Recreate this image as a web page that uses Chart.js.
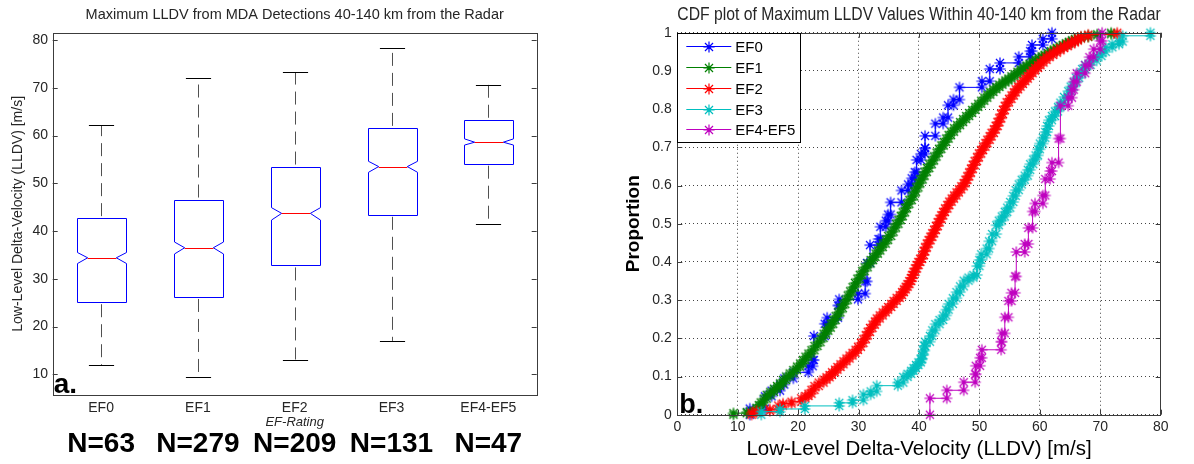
<!DOCTYPE html>
<html>
<head>
<meta charset="utf-8">
<script src="https://cdn.jsdelivr.net/npm/chart.js@4.4.0/dist/chart.umd.min.js"></script>
<style>
    html, body { margin: 0; padding: 0; background: #fff; }
    body { width: 1194px; height: 464px; position: relative; overflow: hidden; }
    #boxWrap { position: absolute; left: 0; top: 0; width: 600px; height: 464px; }
    #cdfWrap { position: absolute; left: 600px; top: 0; width: 594px; height: 464px; }
</style>
</head>
<body>
<div id="boxWrap"><canvas id="boxChart"></canvas></div>
<div id="cdfWrap"><canvas id="cdfChart"></canvas></div>
<script>
// Panel a: notched box plot per EF rating
const categories = ['EF0', 'EF1', 'EF2', 'EF3', 'EF4-EF5'];
const counts = [63, 279, 209, 131, 47];
const whiskerLow = [11.9, 9.4, 13.1, 17.0, 41.5];
const quartile1 = [25.1, 26.2, 32.8, 43.4, 54.1];
const notchLow = [33.2, 35.2, 42.3, 52.3, 58.0];
const medians = [34.4, 36.5, 43.7, 53.5, 58.6];
const notchHigh = [35.5, 37.7, 44.9, 54.6, 59.3];
const quartile3 = [42.7, 46.6, 53.5, 61.6, 63.3];
const whiskerHigh = [62.2, 72.0, 73.2, 78.3, 70.6];

// Panel b: empirical CDF steps (LLDV value, proportion)
const seriesLabels = ['EF0', 'EF1', 'EF2', 'EF3', 'EF4-EF5'];
const seriesColors = ['#0000ff', '#008000', '#ff0000', '#00bfbf', '#bf00bf'];

const ef0Lldv = [12.0, 14.5, 15.6, 17.0, 17.7, 19.2, 21.7, 22.4, 22.6, 24.4, 24.8, 26.6, 26.8, 29.9, 31.1, 31.4,
    31.9, 33.3, 33.6, 34.5, 34.9, 35.3, 37.1, 38.2, 38.8, 39.3, 39.6, 40.3, 41.0, 41.0, 42.7, 44.0, 44.8, 45.7,
    46.7, 50.4, 51.7, 53.4, 56.5, 58.4, 58.7, 60.5, 62.0];
const ef0Prop = [0.016, 0.048, 0.063, 0.079, 0.095, 0.111, 0.127, 0.143, 0.206, 0.238, 0.254, 0.286, 0.302, 0.317,
    0.349, 0.397, 0.444, 0.460, 0.492, 0.508, 0.524, 0.556, 0.587, 0.603, 0.619, 0.635, 0.667, 0.683, 0.698, 0.730,
    0.762, 0.778, 0.810, 0.825, 0.857, 0.873, 0.905, 0.921, 0.937, 0.952, 0.968, 0.984, 1.000];

const ef1Lldv = [9.3, 11.5, 12.6, 13.1, 13.5, 13.8, 14.3, 14.8, 15.4, 16.0, 16.5, 17.0, 17.5, 18.0, 18.6, 19.2,
    19.8, 20.3, 20.8, 21.2, 21.7, 22.2, 22.7, 23.2, 23.7, 24.2, 24.6, 25.0, 25.4, 25.8, 26.2, 26.6, 27.0, 27.4,
    27.8, 28.2, 28.6, 29.0, 29.4, 29.8, 30.2, 30.6, 31.0, 31.5, 32.0, 32.4, 32.8, 33.2, 33.6, 34.0, 34.5, 34.9,
    35.4, 35.8, 36.2, 36.6, 37.0, 37.3, 37.7, 38.0, 38.4, 38.8, 39.2, 39.5, 39.9, 40.2, 40.6, 40.9, 41.3, 41.7,
    42.1, 42.5, 42.9, 43.3, 43.7, 44.1, 44.5, 44.9, 45.3, 45.8, 46.3, 46.8, 47.3, 47.8, 48.3, 48.8, 49.3, 49.8,
    50.3, 50.8, 51.3, 51.8, 52.3, 52.8, 53.3, 53.8, 54.3, 54.8, 55.3, 55.8, 56.3, 56.8, 57.3, 57.8, 58.3, 58.8,
    59.3, 59.8, 60.3, 60.8, 61.3, 61.8, 62.3, 62.8, 63.3, 63.8, 64.3, 64.8, 65.3, 65.8, 66.3, 66.8, 68.0, 69.5,
    71.8];
const ef1Prop = [0.004, 0.007, 0.011, 0.018, 0.025, 0.032, 0.042, 0.052, 0.060, 0.068, 0.075, 0.082, 0.091, 0.100,
    0.108, 0.117, 0.126, 0.134, 0.143, 0.152, 0.160, 0.169, 0.180, 0.190, 0.201, 0.212, 0.220, 0.228, 0.238, 0.248,
    0.258, 0.268, 0.279, 0.290, 0.301, 0.312, 0.323, 0.334, 0.345, 0.356, 0.366, 0.376, 0.386, 0.396, 0.405, 0.413,
    0.422, 0.430, 0.439, 0.448, 0.458, 0.468, 0.479, 0.490, 0.500, 0.510, 0.520, 0.530, 0.541, 0.552, 0.562, 0.572,
    0.584, 0.595, 0.606, 0.616, 0.626, 0.636, 0.646, 0.656, 0.666, 0.676, 0.686, 0.696, 0.705, 0.714, 0.723, 0.732,
    0.741, 0.750, 0.758, 0.766, 0.774, 0.782, 0.790, 0.798, 0.806, 0.814, 0.822, 0.830, 0.838, 0.845, 0.852, 0.858,
    0.864, 0.870, 0.875, 0.880, 0.886, 0.892, 0.898, 0.904, 0.909, 0.914, 0.919, 0.924, 0.929, 0.934, 0.938, 0.942,
    0.947, 0.952, 0.956, 0.960, 0.964, 0.968, 0.972, 0.976, 0.980, 0.983, 0.986, 0.989, 0.993, 0.996, 1.000];

const ef2Lldv = [12.3, 13.1, 15.3, 16.7, 17.5, 18.9, 20.5, 21.2, 21.7, 22.2, 22.7, 23.4, 24.2, 24.7, 25.2, 25.6,
    26.1, 26.5, 27.0, 27.5, 28.0, 28.5, 29.0, 29.5, 29.9, 30.4, 30.8, 31.2, 31.5, 31.9, 32.3, 32.7, 33.0, 33.5,
    34.0, 34.5, 34.9, 35.4, 35.8, 36.3, 36.8, 37.2, 37.5, 37.8, 38.1, 38.4, 38.7, 38.9, 39.1, 39.4, 39.6, 39.9,
    40.2, 40.5, 40.8, 41.0, 41.3, 41.6, 41.9, 42.2, 42.5, 42.8, 43.1, 43.4, 43.7, 44.0, 44.3, 44.7, 45.0, 45.4,
    45.8, 46.2, 46.6, 47.0, 47.4, 47.7, 48.0, 48.3, 48.6, 48.9, 49.2, 49.6, 49.9, 50.3, 50.6, 51.0, 51.3, 51.7,
    52.0, 52.4, 52.7, 53.0, 53.3, 53.6, 53.9, 54.2, 54.5, 54.9, 55.3, 55.7, 56.0, 56.4, 56.8, 57.2, 57.6, 58.0,
    58.4, 58.8, 59.2, 59.7, 60.1, 60.6, 61.1, 61.6, 62.2, 62.8, 63.4, 64.0, 64.6, 65.2, 65.8, 66.3, 66.8, 68.0,
    72.8];
const ef2Prop = [0.005, 0.010, 0.014, 0.024, 0.029, 0.034, 0.043, 0.049, 0.055, 0.065, 0.075, 0.084, 0.092, 0.098,
    0.104, 0.111, 0.118, 0.125, 0.132, 0.140, 0.147, 0.155, 0.162, 0.170, 0.178, 0.188, 0.198, 0.208, 0.217, 0.227,
    0.236, 0.244, 0.252, 0.260, 0.268, 0.275, 0.282, 0.290, 0.298, 0.306, 0.313, 0.321, 0.328, 0.335, 0.342, 0.350,
    0.358, 0.366, 0.374, 0.383, 0.392, 0.400, 0.408, 0.418, 0.428, 0.438, 0.448, 0.457, 0.466, 0.475, 0.484, 0.494,
    0.504, 0.513, 0.522, 0.531, 0.540, 0.549, 0.558, 0.566, 0.574, 0.582, 0.590, 0.598, 0.606, 0.615, 0.624, 0.634,
    0.644, 0.654, 0.664, 0.674, 0.684, 0.693, 0.702, 0.711, 0.720, 0.729, 0.738, 0.747, 0.756, 0.766, 0.776, 0.787,
    0.798, 0.808, 0.818, 0.827, 0.836, 0.844, 0.852, 0.859, 0.866, 0.873, 0.880, 0.887, 0.894, 0.901, 0.908, 0.915,
    0.922, 0.929, 0.936, 0.942, 0.948, 0.954, 0.960, 0.965, 0.970, 0.975, 0.980, 0.985, 0.990, 0.995, 1.000];

const ef3Lldv = [13.9, 17.0, 21.1, 26.8, 29.0, 30.8, 32.0, 33.0, 36.5, 37.4, 38.1, 38.7, 39.1, 39.5, 39.9, 40.3,
    40.5, 40.7, 40.9, 41.0, 41.8, 42.2, 42.7, 43.4, 44.0, 44.5, 44.9, 45.6, 46.2, 46.8, 47.4, 48.2, 49.0, 49.6,
    50.0, 50.3, 51.2, 51.6, 52.1, 52.8, 53.2, 53.7, 54.2, 54.6, 55.1, 55.6, 56.0, 56.5, 57.0, 57.5, 58.0, 58.4,
    58.9, 59.3, 59.7, 60.0, 60.5, 60.9, 61.2, 61.5, 62.0, 62.5, 63.0, 63.4, 64.0, 64.7, 65.1, 65.6, 66.0, 66.5,
    67.0, 67.5, 68.4, 69.4, 70.2, 70.9, 72.0, 73.1, 73.7, 78.3];
const ef3Prop = [0.008, 0.015, 0.023, 0.031, 0.038, 0.053, 0.061, 0.076, 0.084, 0.099, 0.107, 0.115, 0.122, 0.130,
    0.137, 0.145, 0.156, 0.168, 0.180, 0.191, 0.206, 0.221, 0.237, 0.248, 0.260, 0.275, 0.290, 0.305, 0.321, 0.336,
    0.351, 0.359, 0.366, 0.389, 0.405, 0.420, 0.435, 0.454, 0.473, 0.496, 0.508, 0.519, 0.531, 0.542, 0.557, 0.573,
    0.588, 0.603, 0.615, 0.626, 0.641, 0.656, 0.668, 0.679, 0.695, 0.710, 0.725, 0.740, 0.756, 0.771, 0.782, 0.794,
    0.805, 0.817, 0.832, 0.847, 0.859, 0.870, 0.882, 0.893, 0.905, 0.916, 0.927, 0.939, 0.950, 0.962, 0.970, 0.977,
    0.992, 1.000];

const ef45Lldv = [41.8, 44.6, 47.4, 49.3, 49.4, 50.1, 50.4, 53.6, 53.7, 54.2, 54.8, 55.3, 55.9, 56.1, 57.5, 58.1,
    58.8, 59.2, 60.5, 60.9, 61.7, 62.0, 63.1, 63.4, 64.7, 65.3, 65.6, 66.1, 67.5, 68.2, 68.9, 70.0, 70.3];
const ef45Prop = [0.043, 0.064, 0.085, 0.106, 0.128, 0.149, 0.170, 0.191, 0.213, 0.255, 0.298, 0.319, 0.362, 0.426,
    0.447, 0.489, 0.532, 0.553, 0.574, 0.617, 0.638, 0.660, 0.723, 0.809, 0.830, 0.851, 0.872, 0.894, 0.915, 0.936,
    0.957, 0.979, 1.000];

const cdfValues = [ef0Lldv, ef1Lldv, ef2Lldv, ef3Lldv, ef45Lldv];
const cdfProps = [ef0Prop, ef1Prop, ef2Prop, ef3Prop, ef45Prop];

const FONT = '"Liberation Sans", Arial, Helvetica, sans-serif';
const TEXT_COLOR = '#262626';
const AXIS_COLOR = '#3c3c3c';

const crisp = v => Math.round(v) + 0.5;

// vertices of the cdf stairs, marker on both ends of every riser
function stairs(xs, ys) {
    const pts = [];
    let prev = 0;
    xs.forEach((x, i) => {
        pts.push({ x: x, y: prev });
        pts.push({ x: x, y: ys[i] });
        prev = ys[i];
    });
    return pts;
}

function asteriskMarker(color) {
    const c = document.createElement('canvas');
    c.width = 14;
    c.height = 14;
    const g = c.getContext('2d');
    const m = 7, r = 5.6, d = r * 0.72;
    g.strokeStyle = color;
    g.lineWidth = 1.2;
    g.beginPath();
    g.moveTo(m - r, m); g.lineTo(m + r, m);
    g.moveTo(m, m - r); g.lineTo(m, m + r);
    g.moveTo(m - d, m - d); g.lineTo(m + d, m + d);
    g.moveTo(m - d, m + d); g.lineTo(m + d, m - d);
    g.stroke();
    g.fillStyle = color;
    g.beginPath();
    g.arc(m, m, 1.7, 0, Math.PI * 2);
    g.fill();
    return c;
}
const markers = seriesColors.map(asteriskMarker);

const boxPlotPlugin = {
    id: 'notchedBoxes',
    afterDatasetsDraw(chart) {
        const { ctx, scales: { x, y } } = chart;
        const slot = x.width / categories.length;
        const half = slot * 0.25;
        const capHalf = slot * 0.13;
        const inset = half * 0.42;
        const py = v => y.getPixelForValue(v);
        ctx.save();
        ctx.lineWidth = 1;
        categories.forEach((c, i) => {
            const cx = crisp(x.getPixelForValue(i));
            const l = crisp(cx - half), r = crisp(cx + half);

            ctx.strokeStyle = '#505050';
            ctx.setLineDash([13, 7]);
            ctx.beginPath();
            ctx.moveTo(cx, py(quartile3[i]) - 2);
            ctx.lineTo(cx, py(whiskerHigh[i]));
            ctx.stroke();
            ctx.beginPath();
            ctx.moveTo(cx, py(quartile1[i]) + 2);
            ctx.lineTo(cx, py(whiskerLow[i]));
            ctx.stroke();
            ctx.setLineDash([]);

            ctx.strokeStyle = '#000';
            ctx.beginPath();
            ctx.moveTo(cx - capHalf, crisp(py(whiskerHigh[i])));
            ctx.lineTo(cx + capHalf, crisp(py(whiskerHigh[i])));
            ctx.moveTo(cx - capHalf, crisp(py(whiskerLow[i])));
            ctx.lineTo(cx + capHalf, crisp(py(whiskerLow[i])));
            ctx.stroke();

            ctx.strokeStyle = '#0000ff';
            ctx.beginPath();
            ctx.moveTo(l, crisp(py(quartile3[i])));
            ctx.lineTo(l, py(notchHigh[i]));
            ctx.lineTo(l + inset, py(medians[i]));
            ctx.lineTo(l, py(notchLow[i]));
            ctx.lineTo(l, crisp(py(quartile1[i])));
            ctx.lineTo(r, crisp(py(quartile1[i])));
            ctx.lineTo(r, py(notchLow[i]));
            ctx.lineTo(r - inset, py(medians[i]));
            ctx.lineTo(r, py(notchHigh[i]));
            ctx.lineTo(r, crisp(py(quartile3[i])));
            ctx.closePath();
            ctx.stroke();

            ctx.strokeStyle = '#ff0000';
            ctx.beginPath();
            ctx.moveTo(l + inset, crisp(py(medians[i])));
            ctx.lineTo(r - inset, crisp(py(medians[i])));
            ctx.stroke();
        });
        ctx.restore();
    },
    afterDraw(chart) {
        const { ctx, chartArea: a, scales: { x, y } } = chart;
        ctx.save();
        ctx.strokeStyle = AXIS_COLOR;
        ctx.lineWidth = 1;
        ctx.beginPath();
        y.ticks.forEach(t => {
            const p = crisp(y.getPixelForValue(t.value));
            ctx.moveTo(a.left, p); ctx.lineTo(a.left + 5, p);
            ctx.moveTo(a.right, p); ctx.lineTo(a.right - 5, p);
        });
        ctx.stroke();
        ctx.strokeRect(crisp(a.left), crisp(a.top), Math.round(a.width), Math.round(a.height));

        ctx.fillStyle = '#000';
        ctx.font = 'bold 28px ' + FONT;
        ctx.textBaseline = 'alphabetic';
        ctx.textAlign = 'left';
        ctx.fillText('a.', a.left + 1, a.bottom - 2);

        ctx.textAlign = 'center';
        ctx.textBaseline = 'middle';
        counts.forEach((n, i) => {
            ctx.fillText('N=' + n, x.getPixelForValue(i), 444);
        });
        ctx.restore();
    }
};

const cdfDecorations = {
    id: 'cdfDecorations',
    afterDatasetsDraw(chart) {
        const { ctx, chartArea: a, scales: { x, y } } = chart;
        ctx.save();
        ctx.strokeStyle = AXIS_COLOR;
        ctx.lineWidth = 1;
        ctx.beginPath();
        x.ticks.forEach(t => {
            const p = crisp(x.getPixelForValue(t.value));
            ctx.moveTo(p, a.bottom); ctx.lineTo(p, a.bottom - 5);
            ctx.moveTo(p, a.top); ctx.lineTo(p, a.top + 5);
        });
        y.ticks.forEach(t => {
            const p = crisp(y.getPixelForValue(t.value));
            ctx.moveTo(a.left, p); ctx.lineTo(a.left + 5, p);
            ctx.moveTo(a.right, p); ctx.lineTo(a.right - 5, p);
        });
        ctx.stroke();
        ctx.strokeRect(crisp(a.left), crisp(a.top), Math.round(a.width), Math.round(a.height));

        // legend box in the upper left corner
        const lx = crisp(a.left), ly = crisp(a.top);
        ctx.fillStyle = '#fff';
        ctx.fillRect(lx, ly, 123, 109);
        ctx.strokeStyle = '#000';
        ctx.strokeRect(lx, ly, 123, 109);
        ctx.font = '15px ' + FONT;
        ctx.textAlign = 'left';
        ctx.textBaseline = 'middle';
        seriesLabels.forEach((lab, k) => {
            const cy = crisp(a.top + 13.5 + k * 20.8);
            ctx.strokeStyle = seriesColors[k];
            ctx.beginPath();
            ctx.moveTo(a.left + 9, cy);
            ctx.lineTo(a.left + 54, cy);
            ctx.stroke();
            ctx.drawImage(markers[k], Math.round(a.left + 31.5 - 7), Math.round(cy - 7));
            ctx.fillStyle = '#000';
            ctx.fillText(lab, a.left + 58, cy + 1);
        });

        ctx.font = 'bold 27px ' + FONT;
        ctx.textBaseline = 'alphabetic';
        ctx.fillText('b.', a.left + 2, a.bottom - 2);
        ctx.restore();
    }
};

new Chart(document.getElementById('boxChart'), {
    type: 'bar',
    data: {
        labels: categories,
        datasets: [{
            label: 'LLDV',
            data: categories.map((c, i) => [whiskerLow[i], whiskerHigh[i]]),
            backgroundColor: 'rgba(0,0,0,0)',
            borderWidth: 0
        }]
    },
    options: {
        responsive: true,
        maintainAspectRatio: false,
        animation: false,
        events: [],
        layout: { padding: { left: 0, right: 63.3, top: 0, bottom: 0 } },
        plugins: {
            legend: { display: false },
            tooltip: { enabled: false },
            title: {
                display: true,
                fullSize: false,
                text: 'Maximum LLDV from MDA Detections 40-140 km from the Radar',
                color: TEXT_COLOR,
                font: { family: FONT, size: 14.5, weight: 'normal' },
                padding: { top: 6.7, bottom: 8.6 }
            }
        },
        scales: {
            x: {
                grid: { display: false, drawTicks: false },
                border: { display: false },
                ticks: { color: TEXT_COLOR, font: { family: FONT, size: 14 }, padding: 5 },
                title: {
                    display: true,
                    text: 'EF-Rating',
                    color: TEXT_COLOR,
                    font: { family: FONT, size: 13, style: 'italic' },
                    padding: { top: 0, bottom: 33.5 }
                },
                afterFit: s => { s.height = 69; }
            },
            y: {
                min: 5.67,
                max: 81.53,
                grid: { display: false, drawTicks: false },
                border: { display: false },
                ticks: {
                    stepSize: 10,
                    includeBounds: false,
                    color: TEXT_COLOR,
                    font: { family: FONT, size: 14 },
                    padding: 4.7
                },
                title: {
                    display: true,
                    text: 'Low-Level Delta-Velocity (LLDV) [m/s]',
                    color: TEXT_COLOR,
                    font: { family: FONT, size: 14 },
                    padding: { top: 9.6, bottom: 0 }
                },
                afterFit: s => { s.width = 52.7; }
            }
        }
    },
    plugins: [boxPlotPlugin]
});

new Chart(document.getElementById('cdfChart'), {
    type: 'scatter',
    data: {
        datasets: seriesLabels.map((lab, k) => ({
            label: lab,
            data: stairs(cdfValues[k], cdfProps[k]),
            showLine: true,
            borderColor: seriesColors[k],
            backgroundColor: seriesColors[k],
            borderWidth: 1,
            pointStyle: markers[k],
            pointRadius: 4,
            clip: false,
            order: seriesLabels.length - k
        }))
    },
    options: {
        responsive: true,
        maintainAspectRatio: false,
        animation: false,
        events: [],
        layout: { padding: { left: 0, right: 33.3, top: 0, bottom: 0 } },
        plugins: {
            legend: { display: false },
            tooltip: { enabled: false },
            title: {
                display: true,
                fullSize: false,
                text: 'CDF plot of Maximum LLDV Values Within 40-140 km from the Radar',
                color: TEXT_COLOR,
                font: { family: FONT, size: 17.7, weight: 'normal' },
                padding: { top: 4.6, bottom: 6.9 }
            }
        },
        scales: {
            x: {
                type: 'linear',
                min: 0,
                max: 80,
                grid: { color: '#444', lineWidth: 1, drawTicks: false },
                border: { display: false, dash: [1, 3] },
                ticks: { stepSize: 10, color: TEXT_COLOR, font: { family: FONT, size: 14 }, padding: 4 },
                title: {
                    display: true,
                    text: 'Low-Level Delta-Velocity (LLDV) [m/s]',
                    color: '#000',
                    font: { family: FONT, size: 20.5 },
                    padding: { top: 0, bottom: 2.7 }
                },
                afterFit: s => { s.height = 49.3; }
            },
            y: {
                min: 0,
                max: 1,
                grid: { color: '#444', lineWidth: 1, drawTicks: false },
                border: { display: false, dash: [1, 3] },
                ticks: {
                    stepSize: 0.1,
                    color: TEXT_COLOR,
                    font: { family: FONT, size: 14 },
                    padding: 5.6,
                    callback: v => String(Number(v.toFixed(1)))
                },
                title: {
                    display: true,
                    text: 'Proportion',
                    color: '#000',
                    font: { family: FONT, size: 19, weight: 'bold' },
                    padding: { top: 22.6, bottom: 0 }
                },
                afterFit: s => { s.width = 77.3; }
            }
        }
    },
    plugins: [cdfDecorations]
});
</script>
</body>
</html>
